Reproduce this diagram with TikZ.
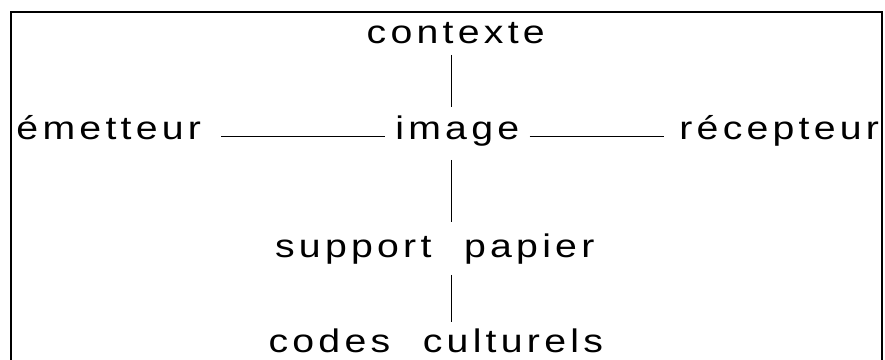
\documentclass[tikz,border=0pt]{standalone}
\usepackage{fontspec}
\usepackage{tikz}
\usetikzlibrary{positioning, calc}
\newfontfamily\wordfont{Liberation Sans}[LetterSpace=13, FakeStretch=1.2]

\begin{document}
\begin{tikzpicture}[
        word/.style={inner sep=0pt, anchor=base, font=\fontsize{18.6}{22}\wordfont},
        link/.style={-, line width=0.7pt},
        frame/.style={draw, line width=0.8pt}
    ]
    \useasboundingbox (0, 0) rectangle (17.7, 7.2);

    % Frame (open at the bottom)
    \draw[frame] (0.22, -0.2) -- (0.22, 6.96) -- (17.64, 6.96) -- (17.64, -0.2);

    % Axis of the vertical links
    \coordinate (axis) at (9.03, 0);

    % Words
    \node[word] (ctx) at (9.115, 6.32) {contexte};
    \node[word] (img) at (9.145, 4.4) {image};
    \node[word] (emet) at (2.175, 4.4) {émetteur};
    \node[word] (recep) at (15.585, 4.4) {récepteur};
    \node[word] (sup) at (8.695, 2.04) {support\hspace{1em}papier};
    \node[word] (codes) at (8.715, 0.14) {codes\hspace{1em}culturels};

    % Vertical links
    \draw[link, shorten <=0.22cm, shorten >=0.66cm] (ctx.base -| axis) -- (img.base -| axis);
    \draw[link, shorten <=0.4cm, shorten >=0.72cm] (img.base -| axis) -- (sup.base -| axis);
    \draw[link, shorten <=0.34cm, shorten >=0.62cm] (sup.base -| axis) -- (codes.base -| axis);

    % Horizontal links
    \draw[link, shorten <=0.4cm, shorten >=0.2cm] (emet.mid east) -- (img.mid west);
    \draw[link, shorten <=0.2cm, shorten >=0.3cm] (img.mid east) -- (recep.mid west);

\end{tikzpicture}
\end{document}
